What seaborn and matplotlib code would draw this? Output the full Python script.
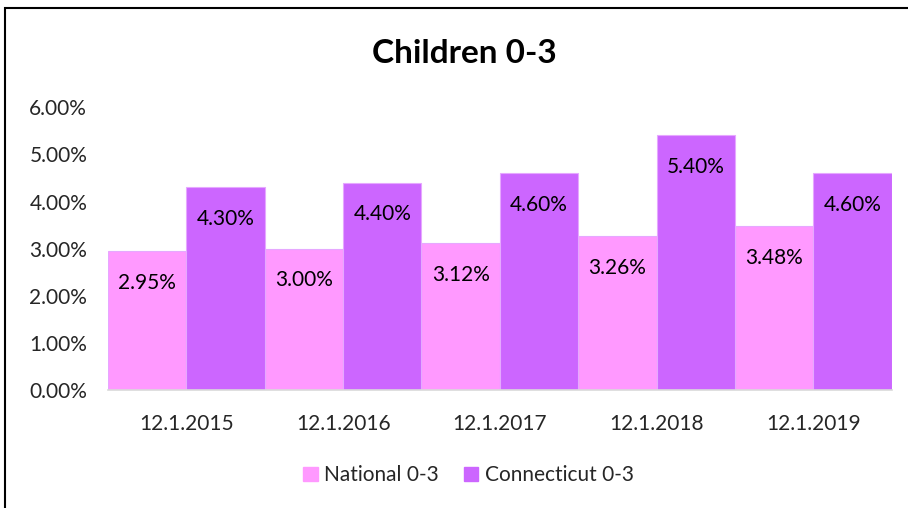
import matplotlib
matplotlib.use("Agg")
import matplotlib.pyplot as plt
import matplotlib.patches as mpatches
import seaborn as sns
import pandas as pd

dates = ["12.1.2015", "12.1.2016", "12.1.2017", "12.1.2018", "12.1.2019"]
national = [2.95, 3.00, 3.12, 3.26, 3.48]
connecticut = [4.30, 4.40, 4.60, 5.40, 4.60]
series_names = ["National 0-3", "Connecticut 0-3"]
colors = ["#FF99FF", "#CC66FF"]

df = pd.DataFrame({
    "date": dates * 2,
    "value": national + connecticut,
    "series": [series_names[0]] * len(dates) + [series_names[1]] * len(dates),
})

sns.set_style("white")
plt.rcParams["font.family"] = ["Lato", "DejaVu Sans"]

fig = plt.figure(figsize=(9.08, 5.08), dpi=100)
ax = fig.add_axes([0.119, 0.232, 0.863, 0.557])

sns.barplot(data=df, x="date", y="value", hue="series", palette=colors,
            saturation=1, width=1.0, gap=0, ax=ax, legend=False,
            edgecolor="#E6A8FF", linewidth=0.8)

for cont in ax.containers:
    ax.bar_label(cont, labels=[f"{v:.2f}%" for v in cont.datavalues],
                 padding=-30, fontsize=15, color="black")

ax.set_xlim(-0.5, len(dates) - 0.5)
ax.set_ylim(0, 6)
ax.set_yticks(range(7))
ax.set_yticklabels([f"{t:.2f}%" for t in range(7)], fontsize=15)
ax.tick_params(axis="x", labelsize=15, pad=17, length=0)
ax.tick_params(axis="y", length=0, pad=15)
ax.set_xlabel("")
ax.set_ylabel("")
for side in ["top", "right", "left"]:
    ax.spines[side].set_visible(False)
ax.spines["bottom"].set_color("#D9D9D9")
ax.spines["bottom"].set_linewidth(1.2)

fig.text(0.511, 0.895, "Children 0-3", ha="center", va="center",
         fontsize=24, fontweight="bold", color="black")

handles = [mpatches.Patch(color=c, label=n) for c, n in zip(colors, series_names)]
fig.legend(handles=handles, loc="center", bbox_to_anchor=(0.516, 0.064), ncol=2,
           frameon=False, fontsize=15, handlelength=0.7, handleheight=0.7,
           handletextpad=0.3, columnspacing=1.2)

border = mpatches.Rectangle((0.0055, -0.1), 1.2, 0.1 + 0.984, transform=fig.transFigure,
                            fill=False, edgecolor="black", linewidth=1.5, clip_on=False)
fig.patches.append(border)

fig.savefig("out.png", dpi=100)
plt.close()
